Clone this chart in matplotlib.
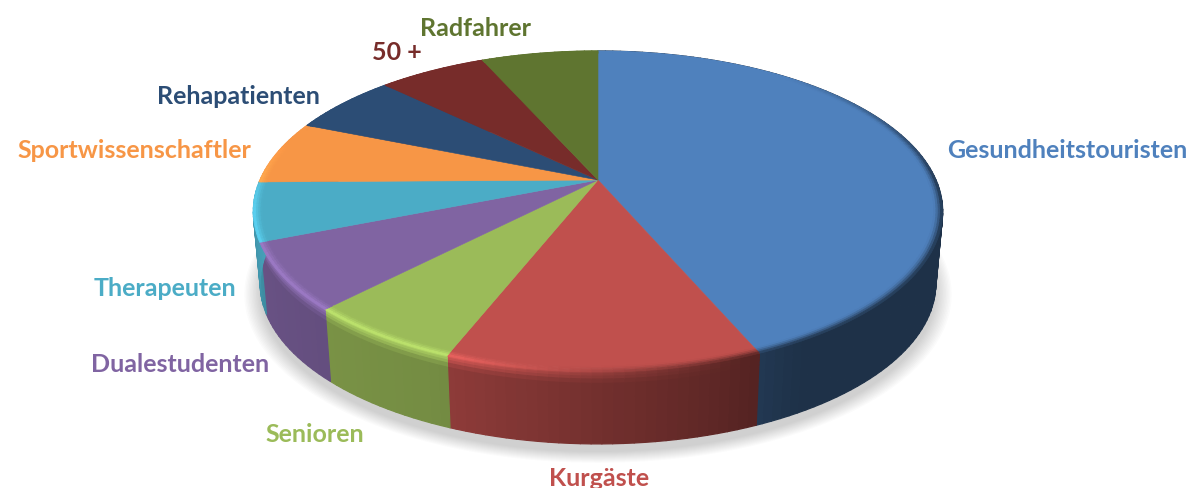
"""3D look pie chart, target groups. Drawn by hand since matplotlib has no perspective pie."""

import matplotlib
matplotlib.use("Agg")
import matplotlib.pyplot as plt
import numpy as np
from matplotlib.collections import PolyCollection
from matplotlib.colors import to_rgb

# values in percent, clockwise from 12 o'clock
categories = ["Gesundheitstouristen", "Kurgäste", "Senioren", "Dualestudenten", "Therapeuten",
              "Sportwissenschaftler", "Rehapatienten", "50 +", "Radfahrer"]
shares = [43.6, 12.35, 6.25, 6.7, 5.9, 6.4, 6.1, 6.1, 6.6]
colors = ["#4f81bd", "#c0504d", "#9bbb59", "#8064a2", "#4bacc6",
          "#f79646", "#2c4d75", "#772c2a", "#5f7530"]

# label centres in pixels
label_x = [1067, 599, 315, 180, 165, 134, 238, 397, 476]
label_y = [150, 479, 435, 365, 289, 150, 97, 53, 28]

# pie geometry in pixels
CX, CY = 598, 181
RX, RY = 338, 154.3
PERSP = 0.196
DEPTH = 72
BOTTOM_SCALE = 0.98


def project(theta, r=1.0, z=0.0, scale=1.0):
    # theta in degrees, clockwise from the top
    t = np.radians(theta)
    sx, sy = r * np.sin(t), r * np.cos(t)
    den = 1 + PERSP * sy
    return CX + scale * RX * sx / den, CY - RY * sy / den + z


def wall_shade(theta):
    return np.interp(theta, [90, 150, 165, 203, 250, 280], [0.38, 0.38, 0.5, 0.75, 0.82, 1.0])


def highlight(theta):
    return np.interp(theta, [160, 200, 260, 285], [0.0, 0.25, 0.25, 0.0])


def rim_dark(theta):
    return np.interp(theta, [40, 90, 160, 200], [0.0, 1.0, 1.0, 0.0])


def mix(a, b, t):
    return a + (b - a) * t


fig = plt.figure(figsize=(11.89, 4.89), dpi=100)
ax = fig.add_axes([0, 0, 1, 1])
ax.set_xlim(0, 1189)
ax.set_ylim(489, 0)
ax.axis("off")

# soft shadow under the pie
ring = np.linspace(0, 360, 241)
for grow in np.linspace(1.045, 1.0, 12):
    x, y = project(ring, r=grow, z=DEPTH + 8, scale=BOTTOM_SCALE)
    ax.fill(x, y, color="#555555", alpha=0.022, lw=0, zorder=1)

edges = np.concatenate([[0], np.cumsum(shares)]) / np.sum(shares) * 360

wall_polys, wall_cols = [], []
band_polys, band_cols = [], []
v_steps = np.array([0, 0.03, 0.06, 0.1, 0.16, 1.0])
r_steps = np.linspace(0.975, 1.0, 5)

for i, base_hex in enumerate(colors):
    base = np.array(to_rgb(base_hex))
    angles = np.arange(edges[i], edges[i + 1], 1.5)
    angles = np.append(angles, edges[i + 1])

    # flat top face
    ax_x, ax_y = project(angles, r=0.98)
    ax.fill(np.r_[CX, ax_x], np.r_[CY, ax_y], color=base_hex, lw=0.4, zorder=4)

    for a0, a1 in zip(angles[:-1], angles[1:]):
        mid = (a0 + a1) / 2
        shade = base * wall_shade(mid)
        glow = highlight(mid)
        dark = rim_dark(mid)
        lit = np.clip(base * (1 + glow), 0, 1)
        wall_top = mix(shade, lit, glow / 0.25 * 0.8)

        # side wall, lit strip right under the rim
        for v0, v1 in zip(v_steps[:-1], v_steps[1:]):
            s0, s1 = mix(1, BOTTOM_SCALE, v0), mix(1, BOTTOM_SCALE, v1)
            x00, y00 = project(a0, z=v0 * DEPTH, scale=s0)
            x10, y10 = project(a1, z=v0 * DEPTH, scale=s0)
            x11, y11 = project(a1, z=v1 * DEPTH, scale=s1)
            x01, y01 = project(a0, z=v1 * DEPTH, scale=s1)
            wall_polys.append([(x00, y00), (x10, y10), (x11, y11), (x01, y01)])
            t = min((v0 + v1) / 2 / 0.16, 1.0)
            wall_cols.append(mix(wall_top, shade, t))

        # bevel on the top face
        for r0, r1 in zip(r_steps[:-1], r_steps[1:]):
            x00, y00 = project(a0, r=r0)
            x10, y10 = project(a1, r=r0)
            x11, y11 = project(a1, r=r1)
            x01, y01 = project(a0, r=r1)
            band_polys.append([(x00, y00), (x10, y10), (x11, y11), (x01, y01)])
            t = ((r0 + r1) / 2 - 0.975) / 0.025
            target = mix(lit, shade, dark)
            band_cols.append(mix(base, target, t ** 1.5))

ax.add_collection(PolyCollection(wall_polys, facecolors=wall_cols, edgecolors=wall_cols,
                                 linewidths=0.9, zorder=3))
ax.add_collection(PolyCollection(band_polys, facecolors=band_cols, edgecolors=band_cols,
                                 linewidths=0.6, zorder=5))

for name, col, lx, ly in zip(categories, colors, label_x, label_y):
    ax.text(lx, ly, name, color=col, family="Lato", fontweight="bold", fontsize=18,
            ha="center", va="center", zorder=6)

fig.savefig("out.png", dpi=100)
